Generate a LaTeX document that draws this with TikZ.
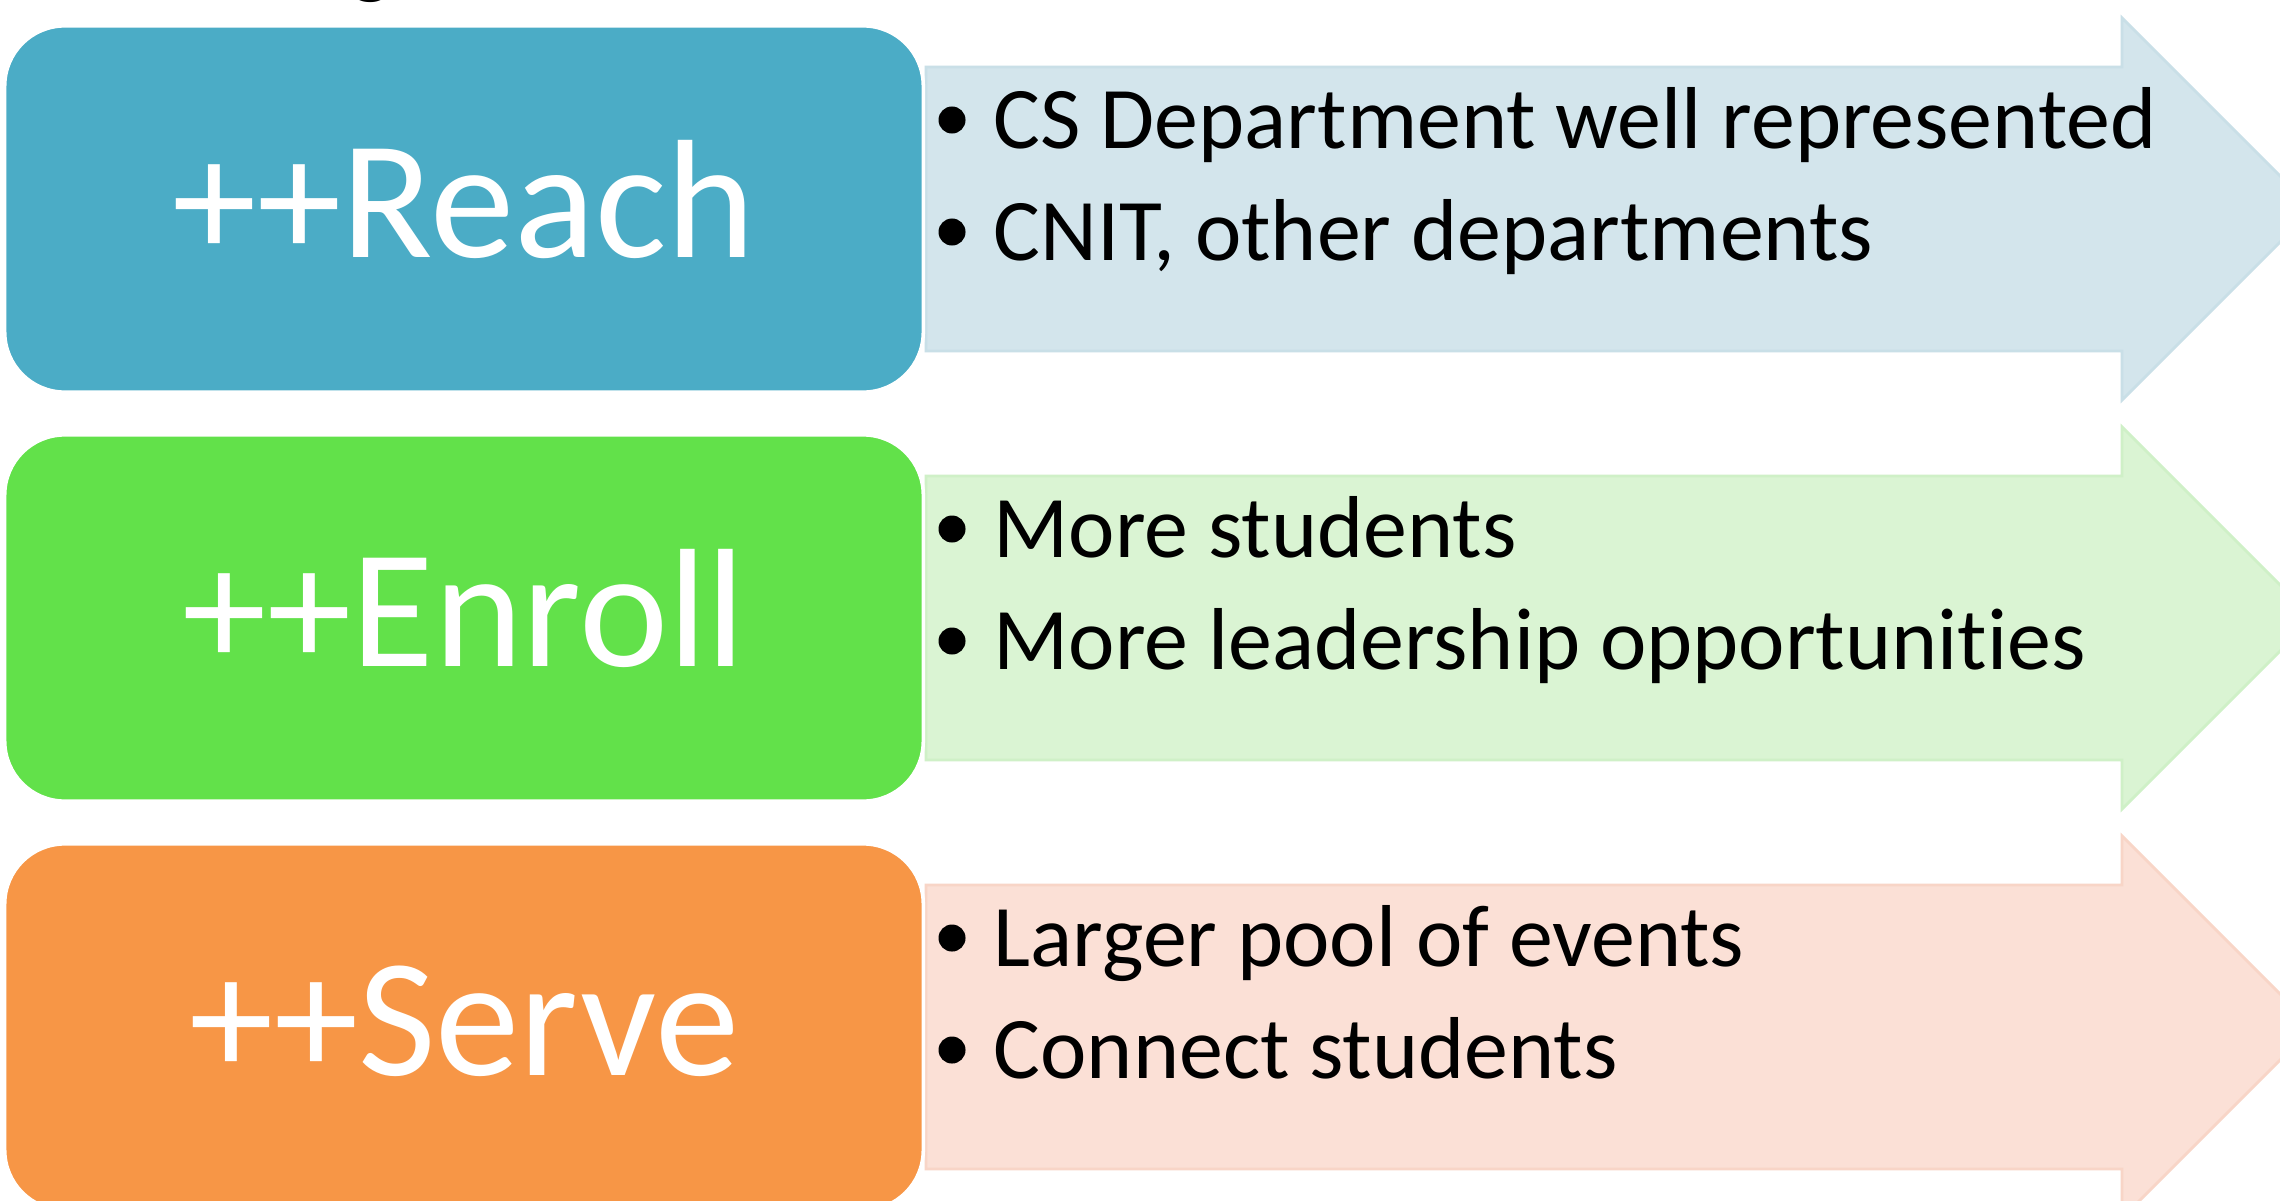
\documentclass[tikz,border=0pt]{standalone}
\usepackage{fontspec}
\setmainfont[Ligatures=NoCommon]{Carlito}
\definecolor{reachc}{HTML}{4BACC6}
\definecolor{enrollc}{HTML}{62E14A}
\definecolor{servec}{HTML}{F79646}
\definecolor{reachl}{HTML}{D3E5EC}
\definecolor{enrolll}{HTML}{DAF4D3}
\definecolor{servel}{HTML}{FBE0D6}
\definecolor{reachd}{HTML}{C9DFE7}
\definecolor{enrolld}{HTML}{CFF0C7}
\definecolor{served}{HTML}{F8D5C7}
\begin{document}
\begin{tikzpicture}[x=0.01cm,y=-0.01cm,
  headbox/.style={rectangle, fill=#1, draw=white, line width=1pt,
    minimum width=9.18cm, minimum height=3.66cm, rounded corners=0.6cm},
  headlabel/.style={anchor=base, inner sep=0pt, text=white, font=\fontsize{48}{58}\selectfont},
  itemtext/.style={anchor=base west, inner sep=0pt, font=\fontsize{25}{30}\selectfont},
  dot/.style={circle, fill=black, minimum size=0.27cm, inner sep=0pt},
  arrowshape/.style={line width=0.8pt, line join=miter}]
\useasboundingbox (0,0) rectangle (2280,1200);
\clip (0,0) rectangle (2280,1200);
\fill[white] (0,0) rectangle (2280,1200);
\node[anchor=base, inner sep=0pt, font=\fontsize{25}{30}\selectfont] (title) at (371,-12) {g};
% arrows
\foreach \dy/\fc/\dc in {0/reachl/reachd, 409/enrolll/enrolld, 818/servel/served}{
  \draw[arrowshape, fill=\fc, draw=\dc] (926,67+\dy) -- (2122,67+\dy) -- (2122,18+\dy)
    -- (2313,209+\dy) -- (2122,400+\dy) -- (2122,351+\dy) -- (926,351+\dy) -- cycle;
}
% boxes
\node[headbox=reachc] (reach) at (464,209) {};
\node[headbox=enrollc] (enroll) at (464,618) {};
\node[headbox=servec] (serve) at (464,1027) {};
\node[headlabel] (reachl) at (464,257) {++Reach};
\node[headlabel] (enrolll) at (464,666) {++Enroll};
\node[headlabel] (servel) at (464,1075) {++Serve};
% items
\node[dot] (b1) at (952,120) {};
\node[itemtext] (t1) at (993,148) {CS Department well represented};
\node[dot] (b2) at (952,232) {};
\node[itemtext] (t2) at (993,260) {CNIT, other departments};
\node[dot] (b3) at (952,529) {};
\node[itemtext] (t3) at (993,557) {More students};
\node[dot] (b4) at (952,641) {};
\node[itemtext] (t4) at (993,669) {More leadership opportunities};
\node[dot] (b5) at (952,938) {};
\node[itemtext] (t5) at (993,966) {Larger pool of events};
\node[dot] (b6) at (952,1050) {};
\node[itemtext] (t6) at (993,1078) {Connect students};
\end{tikzpicture}
\end{document}
